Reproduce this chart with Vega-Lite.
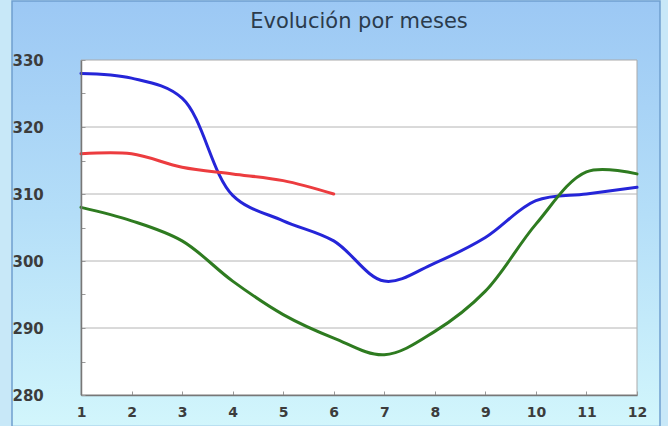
{
  "$schema": "https://vega.github.io/schema/vega-lite/v6.json",
  "width": 556,
  "height": 335,
  "autosize": {"type": "none"},
  "padding": {"left": 81, "top": 60, "right": 31, "bottom": 31},
  "background": "#c8e8f8",
  "title": {
    "text": "Evolución por meses",
    "font": "DejaVu Sans",
    "fontSize": 21,
    "fontWeight": "normal",
    "color": "#2b3b4c",
    "anchor": "middle",
    "baseline": "alphabetic",
    "offset": -49
  },
  "config": {
    "view": {"stroke": null},
    "axis": {
      "title": null,
      "grid": false,
      "labelFlush": false,
      "labelOverlap": false,
      "labelBound": false,
      "domainColor": "#777777",
      "domainWidth": 1.5,
      "tickColor": "#999999",
      "tickSize": -4,
      "labelFont": "DejaVu Sans",
      "labelFontWeight": "bold",
      "labelColor": "#3c3c3c"
    },
    "axisX": {"labelPadding": 14, "labelFontSize": 14},
    "axisY": {"labelPadding": 73, "labelFontSize": 15, "labelAlign": "left", "labelBaseline": "middle"}
  },
  "datasets": {
    "series": [
      {"mes": 1, "serie": "Serie 1", "valor": 328.0},
      {"mes": 2, "serie": "Serie 1", "valor": 327.3},
      {"mes": 3, "serie": "Serie 1", "valor": 324.3},
      {"mes": 4, "serie": "Serie 1", "valor": 309.8},
      {"mes": 5, "serie": "Serie 1", "valor": 306.0},
      {"mes": 6, "serie": "Serie 1", "valor": 303.0},
      {"mes": 7, "serie": "Serie 1", "valor": 297.0},
      {"mes": 8, "serie": "Serie 1", "valor": 299.7},
      {"mes": 9, "serie": "Serie 1", "valor": 303.5},
      {"mes": 10, "serie": "Serie 1", "valor": 309.0},
      {"mes": 11, "serie": "Serie 1", "valor": 310.0},
      {"mes": 12, "serie": "Serie 1", "valor": 311.0},
      {"mes": 1, "serie": "Serie 2", "valor": 316.0},
      {"mes": 2, "serie": "Serie 2", "valor": 316.0},
      {"mes": 3, "serie": "Serie 2", "valor": 314.0},
      {"mes": 4, "serie": "Serie 2", "valor": 313.0},
      {"mes": 5, "serie": "Serie 2", "valor": 312.0},
      {"mes": 6, "serie": "Serie 2", "valor": 310.0},
      {"mes": 1, "serie": "Serie 3", "valor": 308.0},
      {"mes": 2, "serie": "Serie 3", "valor": 306.0},
      {"mes": 3, "serie": "Serie 3", "valor": 303.0},
      {"mes": 4, "serie": "Serie 3", "valor": 297.0},
      {"mes": 5, "serie": "Serie 3", "valor": 292.0},
      {"mes": 6, "serie": "Serie 3", "valor": 288.5},
      {"mes": 7, "serie": "Serie 3", "valor": 286.0},
      {"mes": 8, "serie": "Serie 3", "valor": 289.5},
      {"mes": 9, "serie": "Serie 3", "valor": 295.5},
      {"mes": 10, "serie": "Serie 3", "valor": 305.5},
      {"mes": 11, "serie": "Serie 3", "valor": 313.3},
      {"mes": 12, "serie": "Serie 3", "valor": 313.0}
    ],
    "grid": [{"valor": 290}, {"valor": 300}, {"valor": 310}, {"valor": 320}]
  },
  "layer": [
    {
      "data": {"values": [{}]},
      "mark": {
        "type": "rect",
        "clip": false,
        "stroke": "#6f9fcf",
        "strokeWidth": 1.5,
        "fill": {
          "gradient": "linear",
          "x1": 0, "y1": 0, "x2": 0, "y2": 1,
          "stops": [
            {"offset": 0, "color": "#9cc8f4"},
            {"offset": 0.5, "color": "#b4def8"},
            {"offset": 1, "color": "#d2f6fc"}
          ]
        }
      },
      "encoding": {
        "x": {"datum": -0.365, "type": "quantitative", "scale": {"domain": [1, 12], "nice": false, "zero": false},
              "axis": {"values": [1, 2, 3, 4, 5, 6, 7, 8, 9, 10, 11, 12], "format": "d", "zindex": 1}},
        "x2": {"datum": 12.455},
        "y": {"datum": 338.8, "type": "quantitative", "scale": {"domain": [280, 330], "nice": false, "zero": false},
              "axis": {"values": [280, 285, 290, 295, 300, 305, 310, 315, 320, 325, 330], "labelExpr": "datum.value % 10 === 0 ? datum.label : ''", "zindex": 1}},
        "y2": {"datum": 275.3}
      }
    },
    {
      "data": {"values": [{}]},
      "mark": {"type": "rect", "fill": "white", "stroke": "#aaaaaa", "strokeWidth": 1},
      "encoding": {
        "x": {"datum": 1, "type": "quantitative", "scale": {"domain": [1, 12], "nice": false, "zero": false},
              "axis": {"values": [1, 2, 3, 4, 5, 6, 7, 8, 9, 10, 11, 12], "format": "d", "zindex": 1}},
        "x2": {"datum": 12},
        "y": {"datum": 330, "type": "quantitative", "scale": {"domain": [280, 330], "nice": false, "zero": false},
              "axis": {"values": [280, 285, 290, 295, 300, 305, 310, 315, 320, 325, 330], "labelExpr": "datum.value % 10 === 0 ? datum.label : ''", "zindex": 1}},
        "y2": {"datum": 280}
      }
    },
    {
      "data": {"name": "grid"},
      "mark": {"type": "rule", "color": "#b4b4b4", "strokeWidth": 1},
      "encoding": {
        "y": {"field": "valor", "type": "quantitative", "scale": {"domain": [280, 330], "nice": false, "zero": false},
              "axis": {"values": [280, 285, 290, 295, 300, 305, 310, 315, 320, 325, 330], "labelExpr": "datum.value % 10 === 0 ? datum.label : ''", "zindex": 1}}
      }
    },
    {
      "data": {"name": "series"},
      "mark": {"type": "line", "interpolate": "catmull-rom", "strokeWidth": 3, "strokeCap": "round"},
      "encoding": {
        "x": {"field": "mes", "type": "quantitative", "scale": {"domain": [1, 12], "nice": false, "zero": false},
              "axis": {"values": [1, 2, 3, 4, 5, 6, 7, 8, 9, 10, 11, 12], "format": "d", "zindex": 1}},
        "y": {"field": "valor", "type": "quantitative", "scale": {"domain": [280, 330], "nice": false, "zero": false},
              "axis": {"values": [280, 285, 290, 295, 300, 305, 310, 315, 320, 325, 330], "labelExpr": "datum.value % 10 === 0 ? datum.label : ''", "zindex": 1}},
        "color": {
          "field": "serie",
          "type": "nominal",
          "scale": {"domain": ["Serie 1", "Serie 2", "Serie 3"], "range": ["#2525d8", "#ec3c3f", "#2e7b20"]},
          "legend": null
        }
      }
    }
  ]
}
